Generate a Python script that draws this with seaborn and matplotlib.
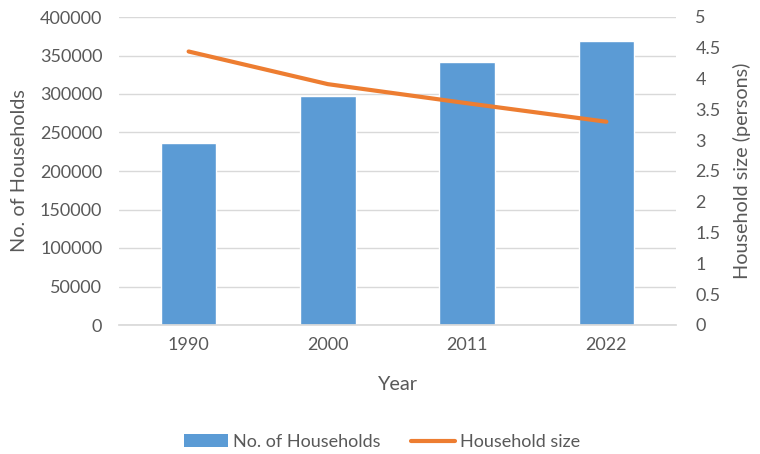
import matplotlib
matplotlib.use("Agg")
import matplotlib.pyplot as plt
import seaborn as sns
import pandas as pd
from matplotlib.patches import Patch
from matplotlib.lines import Line2D

years = ["1990", "2000", "2011", "2022"]
households = [236000, 297500, 342000, 368500]
hh_size = [4.44, 3.91, 3.60, 3.30]

df = pd.DataFrame({"Year": years, "Households": households, "Size": hh_size})

sns.set_theme(style="white")
plt.rcParams['font.family'] = ['Lato', 'DejaVu Sans']

bar_color = "#5B9BD5"
line_color = "#ED7D31"
text_color = "#595959"
tick_fs = 13
label_fs = 14.3

fig = plt.figure(figsize=(7.6, 4.54), dpi=100)
ax = fig.add_axes([119 / 760, 1 - 325 / 454, 557 / 760, 308 / 454])

sns.barplot(data=df, x="Year", y="Households", color=bar_color, width=0.4,
            saturation=1, ax=ax, zorder=2)
ax.set_ylim(0, 400000)
ax.set_yticks(range(0, 400001, 50000))
ax.yaxis.grid(True, color="#D9D9D9", linewidth=1, zorder=0)
ax.set_axisbelow(True)
for s in ["top", "right", "left"]:
    ax.spines[s].set_visible(False)
ax.spines["bottom"].set_color("#D9D9D9")
ax.tick_params(axis="y", length=0, labelsize=tick_fs, colors=text_color, pad=12)
ax.tick_params(axis="x", length=0, labelsize=tick_fs, colors=text_color, pad=9)
ax.set_xlabel("Year", fontsize=label_fs, color=text_color, va="center")
ax.xaxis.set_label_coords(0.5, (325 - 384) / 308)
ax.set_ylabel("No. of Households", fontsize=label_fs, color=text_color, va="center")
ax.yaxis.set_label_coords((20 - 119) / 557, 0.5)

ax2 = ax.twinx()
sns.pointplot(data=df, x="Year", y="Size", color=line_color, markers="",
              linewidth=3, ax=ax2)
ax2.set_ylim(0, 5)
ax2.set_yticks([0, 0.5, 1, 1.5, 2, 2.5, 3, 3.5, 4, 4.5, 5])
ax2.set_yticklabels(["0", "0.5", "1", "1.5", "2", "2.5", "3", "3.5", "4", "4.5", "5"])
for s in ["top", "right", "left", "bottom"]:
    ax2.spines[s].set_visible(False)
ax2.tick_params(axis="y", length=0, labelsize=tick_fs, colors=text_color, pad=14)
ax2.set_ylabel("Household size (persons)", fontsize=label_fs, color=text_color, va="center")
ax2.yaxis.set_label_coords((742 - 119) / 557, 0.5)
ax2.set_xlabel("")

handles = [Patch(facecolor=bar_color, edgecolor="none"),
           Line2D([0], [0], color=line_color, linewidth=3)]
fig.legend(handles, ["No. of Households", "Household size"], loc="center",
           bbox_to_anchor=(0.503, 1 - 442 / 454), ncol=2, frameon=False, fontsize=13,
           labelcolor=text_color, handlelength=2.4, handletextpad=0.3,
           columnspacing=1.7)

fig.savefig("out.png", dpi=100)
